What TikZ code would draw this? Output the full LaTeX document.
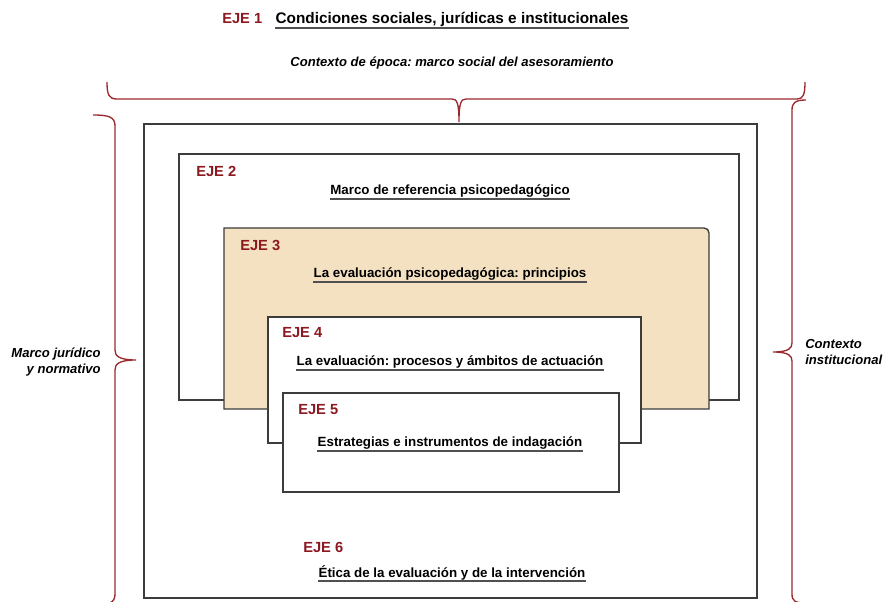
\documentclass[tikz,border=0pt]{standalone}
\usepackage{fontspec}
\setmainfont{Liberation Sans}
\frenchspacing
\definecolor{rojo}{RGB}{140,24,32}
\definecolor{rojollave}{RGB}{155,40,45}
\definecolor{gris}{RGB}{60,60,60}
\definecolor{beige}{RGB}{244,225,194}
\tikzset{
  caja/.style={draw=gris, line width=1pt},
  llave/.style={draw=rojollave, line width=1pt},
  eje/.style={font=\fontsize{11}{13}\selectfont\bfseries, text=rojo, anchor=base west, inner sep=0pt},
  titulo/.style={font=\fontsize{10}{12}\selectfont\bfseries, anchor=base, inner sep=0pt},
  marco/.style={font=\fontsize{9.8}{12}\selectfont\bfseries\itshape, inner sep=0pt},
  subraya/.style={draw=gris!90, line width=1.3pt}
}
\begin{document}
\begin{tikzpicture}[x=0.75pt,y=-0.75pt]
\useasboundingbox (0,0) rectangle (883,602);

% cajas
\draw[caja,fill=white] (144,124) rectangle (757,598);
\draw[caja] (179,154) rectangle (739,400);
\draw[caja,fill=beige] (224,409) -- (224,228) -- (704,228) .. controls (707,228) and (709,230) .. (709,233) -- (709,409) -- cycle;
\draw[caja,fill=white] (268,317) rectangle (641,443);
\draw[caja,fill=white] (283,393) rectangle (619,492);

% llaves
\draw[llave] (107,82) .. controls (107,95) and (109,99) .. (117,99) -- (452,99) .. controls (457,99) and (459,103) .. (459,122) .. controls (459,103) and (461,99) .. (466,99) -- (797,99) .. controls (803,99) and (805,95) .. (805,82);
\draw[llave] (93,115) .. controls (109,115) and (115,117) .. (115,126) -- (115,350) .. controls (115,356) and (119,360) .. (136,360) .. controls (119,360) and (115,364) .. (115,370) -- (115,594) .. controls (115,603) and (109,605) .. (93,605);
\draw[llave] (806,100) .. controls (795,100) and (792,103) .. (792,110) -- (792,343) .. controls (792,348) and (789,352) .. (773,352) .. controls (789,352) and (792,356) .. (792,361) -- (792,594) .. controls (792,601) and (795,603) .. (806,603);

% textos
\node[eje] (eje1) at (222,24) {EJE 1};
\node[titulo,font=\fontsize{11.5}{13}\selectfont\bfseries] (tit1) at (452,24) {Condiciones sociales, jurídicas e institucionales};
\node[marco,anchor=base] (epoca) at (452,67) {Contexto de época: marco social del asesoramiento};
\node[marco,anchor=east,align=right] (juridico) at (101,362) {Marco jurídico\\y normativo};
\node[marco,anchor=west,align=left] (institucional) at (805,352) {Contexto\\institucional};

\node[eje] (eje2) at (196,177) {EJE 2};
\node[titulo] (tit2) at (450,195) {Marco de referencia psicopedagógico};
\node[eje] (eje3) at (240,251) {EJE 3};
\node[titulo] (tit3) at (450,278) {La evaluación psicopedagógica: principios};
\node[eje] (eje4) at (282,338) {EJE 4};
\node[titulo] (tit4) at (450,366) {La evaluación: procesos y ámbitos de actuación};
\node[eje] (eje5) at (298,415) {EJE 5};
\node[titulo] (tit5) at (450,447) {Estrategias e instrumentos de indagación};
\node[eje] (eje6) at (303,552) {EJE 6};
\node[titulo] (tit6) at (452,577) {Ética de la evaluación y de la intervención};

% subrayados
\foreach \t in {tit1,tit2,tit3,tit4,tit5,tit6}
  \draw[subraya] ([yshift=-3.2pt]\t.base west) -- ([yshift=-3.2pt]\t.base east);
\end{tikzpicture}
\end{document}
